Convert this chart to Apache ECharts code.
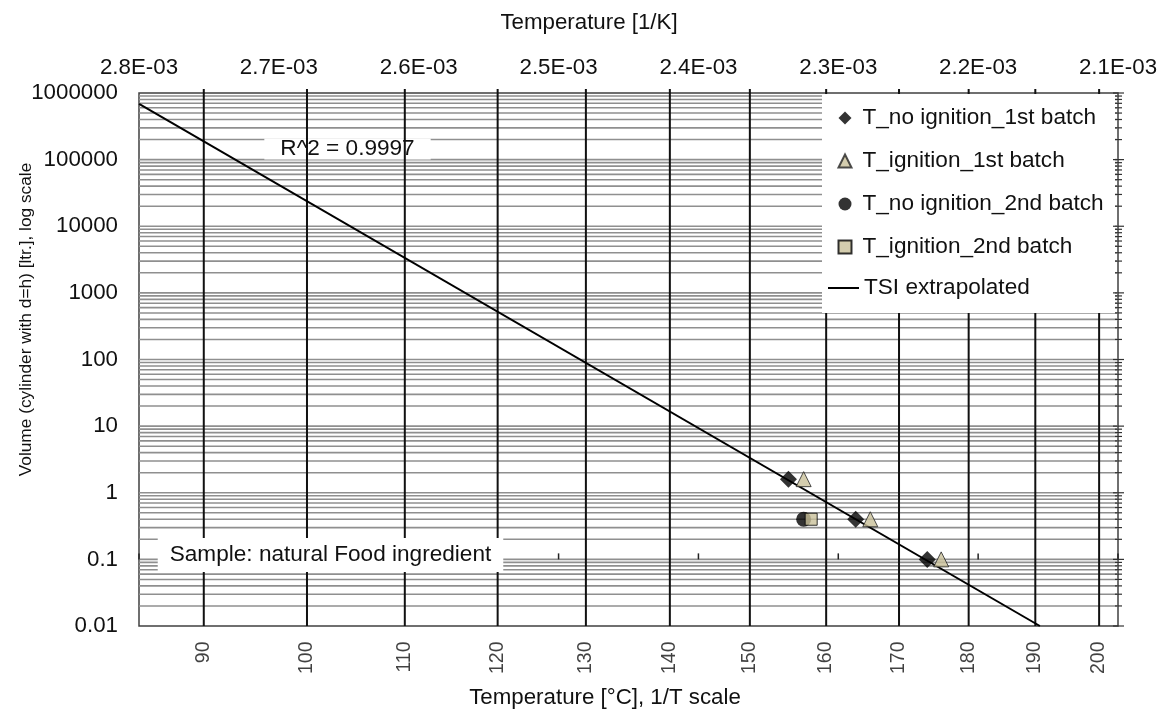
<!DOCTYPE html>
<html><head><meta charset="utf-8">
<script src="https://cdn.jsdelivr.net/npm/echarts@6/dist/echarts.min.js"></script>
<style>html,body{margin:0;padding:0;background:#fff}#c{width:1161px;height:713px}</style>
</head><body><div id="c"></div>
<script>
// ---- data (temperatures in °C, volumes in litres) ----
const noIgn1TempC = [155, 164, 174];
const noIgn1Vol   = [1.6, 0.4, 0.1];
const ign1TempC   = [157, 166, 176];
const ign1Vol     = [1.6, 0.4, 0.1];
const noIgn2TempC = [157];
const noIgn2Vol   = [0.4];
const ign2TempC   = [158];
const ign2Vol     = [0.4];
const tsiTempC    = [84.0, 190.7];
const tsiVol      = [684000, 0.01];

// ---- tick labels ----
const celsiusTicks   = [90, 100, 110, 120, 130, 140, 150, 160, 170, 180, 190, 200];
const inverseTTicks  = [0.0021, 0.0022, 0.0023, 0.0024, 0.0025, 0.0026, 0.0027, 0.0028];
const volumeDecades  = [0.01, 0.1, 1, 10, 100, 1000, 10000, 100000, 1000000];
const minorMultipliers = [2, 3, 4, 5, 6, 7, 8, 9];

const seriesNames = ['T_no ignition_1st batch', 'T_ignition_1st batch', 'T_no ignition_2nd batch', 'T_ignition_2nd batch', 'TSI extrapolated'];
const rSquaredText = 'R^2 = 0.9997';
const sampleText = 'Sample: natural Food ingredient';

const KELVIN = 273.15;
const inv = c => 1 / (c + KELVIN);
const X_MIN = inverseTTicks[0], X_MAX = inverseTTicks[inverseTTicks.length - 1];
const Y_MIN = volumeDecades[0], Y_MAX = volumeDecades[volumeDecades.length - 1];

const pairs = (t, v) => t.map((c, i) => [inv(c), v[i]]);

// gridline values: every 1..9 multiple inside the range (excluding borders)
const hGridValues = [];
volumeDecades.slice(0, -1).forEach(d => {
  [1].concat(minorMultipliers).forEach(m => {
    const v = Number((d * m).toPrecision(6));
    if (v > Y_MIN && v < Y_MAX) hGridValues.push(v);
  });
});
const rightTicks = [];
volumeDecades.forEach((d, i) => {
  rightTicks.push([X_MIN, d, 1]);
  if (i < volumeDecades.length - 1) minorMultipliers.forEach(m => rightTicks.push([X_MIN, Number((d * m).toPrecision(6)), 0]));
});

const fmtE = v => {
  const e = Math.floor(Math.log10(v) + 1e-9);
  const m = v / Math.pow(10, e);
  return m.toFixed(1) + 'E' + (e < 0 ? '-' : '+') + String(Math.abs(e)).padStart(2, '0');
};
const fmtY = v => String(Number(v.toPrecision(6)));

const FONT = 'Liberation Sans, Arial, sans-serif';
const TAN = '#c9c09a';

const chart = echarts.init(document.getElementById('c'), null, {renderer: 'canvas'});
chart.setOption({
  animation: false,
  textStyle: {fontFamily: FONT, color: '#000'},
  grid: {left: 139, top: 93, width: 979, height: 533, show: true, borderColor: '#404040', borderWidth: 1.5, backgroundColor: 'transparent'},
  xAxis: [{
    type: 'value', position: 'top', min: X_MIN, max: X_MAX, interval: 0.0001, inverse: true,
    axisLine: {show: false}, axisTick: {show: false}, splitLine: {show: false},
    axisLabel: {fontSize: 22.3, color: '#111', margin: 14, formatter: fmtE, showMinLabel: true, showMaxLabel: true, hideOverlap: false, fontFamily: FONT}
  }, {
    type: 'value', position: 'bottom', min: X_MIN, max: X_MAX, inverse: true, show: false
  }],
  yAxis: [{
    type: 'log', logBase: 10, min: Y_MIN, max: Y_MAX, splitNumber: 8,
    axisLine: {show: false}, axisTick: {show: false}, splitLine: {show: false},
    axisLabel: {fontSize: 22.3, color: '#111', margin: 21, formatter: fmtY, fontFamily: FONT}
  }],
  legend: [{
    orient: 'vertical', left: 837.5, top: 106, padding: 0, itemGap: 19,
    itemWidth: 13, itemHeight: 13, selectedMode: false, z: 10,
    textStyle: {fontSize: 22.6, color: '#111', lineHeight: 24, fontFamily: FONT, padding: [0, 0, 0, 6]},
    data: seriesNames.slice(0, 4)
  }, {
    orient: 'vertical', left: 828, top: 276, padding: 0,
    itemWidth: 31, itemHeight: 13, selectedMode: false, z: 10,
    textStyle: {fontSize: 22.6, color: '#111', lineHeight: 24, fontFamily: FONT},
    data: [{name: seriesNames[4], icon: 'path://M0 0H31V2H0Z'}]
  }],
  graphic: [
    {type: 'rect', z: 8, silent: true, shape: {x: 822, y: 94, width: 293, height: 219}, style: {fill: '#fff'}},
    {type: 'text', z: 9, x: 589, y: 23, style: {text: 'Temperature [1/K]', font: '22.3px ' + FONT, fill: '#111', textAlign: 'center', textVerticalAlign: 'middle'}},
    {type: 'text', z: 9, x: 605, y: 698, style: {text: 'Temperature [°C], 1/T scale', font: '22.3px ' + FONT, fill: '#111', textAlign: 'center', textVerticalAlign: 'middle'}},
    {type: 'text', z: 9, x: 26, y: 319.5, rotation: Math.PI / 2, style: {text: 'Volume (cylinder with d=h) [ltr.], log scale', font: '17.3px ' + FONT, fill: '#111', textAlign: 'center', textVerticalAlign: 'middle'}},
    {type: 'text', z: 2, x: 347.5, y: 149, style: {text: rSquaredText, font: '22.6px ' + FONT, fill: '#111', textAlign: 'center', textVerticalAlign: 'middle', backgroundColor: '#fff', padding: [0, 16], lineHeight: 21}},
    {type: 'text', z: 4, x: 330.5, y: 555, style: {text: sampleText, font: '22.6px ' + FONT, fill: '#111', textAlign: 'center', textVerticalAlign: 'middle', backgroundColor: '#fff', padding: [6, 12], lineHeight: 22}}
  ],
  series: [
    { // horizontal log gridlines
      type: 'custom', name: 'hgrid', z: 1, silent: true, clip: false,
      data: hGridValues.map(v => [X_MAX, v]),
      encode: {x: 0, y: 1},
      renderItem: (params, api) => {
        const a = api.coord([X_MAX, api.value(1)]);
        const b = api.coord([X_MIN, api.value(1)]);
        return {type: 'line', shape: {x1: a[0], y1: a[1], x2: b[0], y2: b[1]}, style: {stroke: '#8f8f8f', lineWidth: 1.6}};
      }
    },
    { // vertical °C gridlines
      type: 'custom', name: 'vgrid', z: 3, silent: true, clip: false,
      data: celsiusTicks.map(c => [inv(c), Y_MIN]),
      encode: {x: 0, y: 1},
      renderItem: (params, api) => {
        const a = api.coord([api.value(0), Y_MIN]);
        const b = api.coord([api.value(0), Y_MAX]);
        return {type: 'line', shape: {x1: a[0], y1: a[1], x2: b[0], y2: b[1] - 4}, style: {stroke: '#111', lineWidth: 2}};
      }
    },
    { // 1/T ticks sitting on the 0.1 line
      type: 'custom', name: 'invTicks', z: 3, silent: true, clip: false,
      data: inverseTTicks.map(x => [x, volumeDecades[1]]),
      encode: {x: 0, y: 1},
      renderItem: (params, api) => {
        const a = api.coord([api.value(0), api.value(1)]);
        return {type: 'line', shape: {x1: a[0], y1: a[1], x2: a[0], y2: a[1] - 6}, style: {stroke: '#222', lineWidth: 1.5}};
      }
    },
    { // right axis ticks
      type: 'custom', name: 'rightTicks', z: 11, silent: true, clip: false,
      data: rightTicks,
      encode: {x: 0, y: 1},
      renderItem: (params, api) => {
        const a = api.coord([api.value(0), api.value(1)]);
        const major = api.value(2) === 1;
        return {type: 'line', shape: {x1: a[0] - (major ? 5 : 3), y1: a[1], x2: a[0] + (major ? 6 : 4), y2: a[1]}, style: {stroke: '#333', lineWidth: 1.2}};
      }
    },
    { // °C tick labels along the bottom
      type: 'scatter', name: 'celsiusLabels', z: 3, silent: true, clip: false,
      symbolSize: 1, itemStyle: {color: 'rgba(0,0,0,0)'},
      data: celsiusTicks.map(c => [inv(c), Y_MIN, c]),
      label: {show: true, formatter: p => String(p.value[2]), rotate: 90, position: [0, 16], align: 'right', verticalAlign: 'middle', fontSize: 19.5, color: '#111', fontFamily: FONT}
    },
    {
      type: 'line', name: seriesNames[4], z: 5, symbol: 'none', clip: false,
      data: pairs(tsiTempC, tsiVol),
      lineStyle: {color: '#000', width: 2}, itemStyle: {color: '#000'}
    },
    {
      type: 'scatter', name: seriesNames[0], z: 6, symbol: 'diamond', symbolSize: 17,
      data: pairs(noIgn1TempC, noIgn1Vol), itemStyle: {color: '#000'}
    },
    {
      type: 'scatter', name: seriesNames[1], z: 7, symbol: 'triangle', symbolSize: 15,
      data: pairs(ign1TempC, ign1Vol), itemStyle: {color: TAN, borderColor: '#222', borderWidth: 1}
    },
    {
      type: 'scatter', name: seriesNames[2], z: 6, symbol: 'circle', symbolSize: 15,
      data: pairs(noIgn2TempC, noIgn2Vol), itemStyle: {color: '#000'}
    },
    {
      type: 'scatter', name: seriesNames[3], z: 7, symbol: 'rect', symbolSize: 12,
      data: pairs(ign2TempC, ign2Vol), itemStyle: {color: TAN, borderColor: '#000', borderWidth: 1}
    }
  ]
});
</script></body></html>
